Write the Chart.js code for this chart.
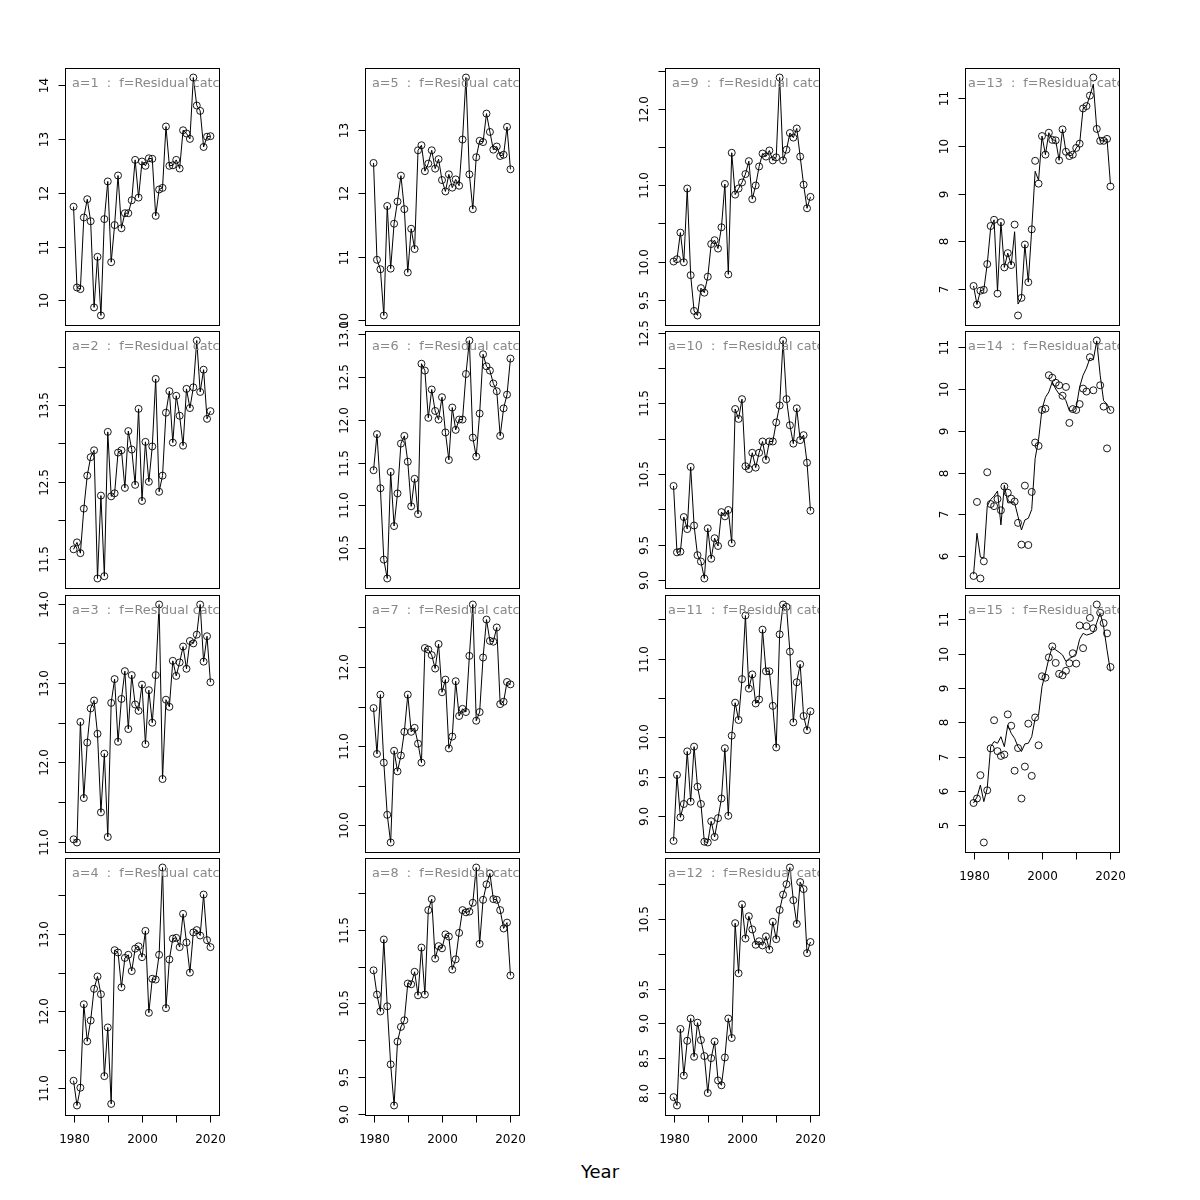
<!DOCTYPE html>
<html>
<head>
<meta charset="utf-8">
<script src="https://cdn.jsdelivr.net/npm/chart.js@4"></script>
<style>
  body { margin: 0; background: #fff; }
  #wrap { position: relative; width: 1200px; height: 1200px; }
  #wrap canvas { position: absolute; }
  #xlab { position: absolute; left: 0; width: 1200px; top: 1161px; line-height: 22px;
          text-align: center; font: 18px "DejaVu Sans", sans-serif; color: #000; }
</style>
</head>
<body>
<div id="wrap"><div id="xlab">Year</div></div>
<script>
// anni (asse x)
var years = [1980,1981,1982,1983,1984,1985,1986,1987,1988,1989,
             1990,1991,1992,1993,1994,1995,1996,1997,1998,1999,
             2000,2001,2002,2003,2004,2005,2006,2007,2008,2009,
             2010,2011,2012,2013,2014,2015,2016,2017,2018,2019,2020];
var xTicks = [1980, 1990, 2000, 2010, 2020];

// valori osservati (cerchi) per ogni pannello a=1..15
var a1 = [11.74,10.24,10.21,11.54,11.88,11.47,9.87,10.81,9.72,11.51,
          12.21,10.71,11.40,12.32,11.34,11.62,11.62,11.86,12.61,11.91,
          12.58,12.50,12.64,12.63,11.57,12.06,12.09,13.23,12.50,12.51,
          12.61,12.45,13.16,13.10,13.00,14.14,13.62,13.52,12.85,13.04,13.05];
var a2 = [11.62,11.71,11.57,12.15,12.58,12.82,12.91,11.24,12.32,11.27,
          13.15,12.31,12.35,12.88,12.91,12.42,13.16,12.92,12.46,13.45,
          12.25,13.02,12.50,12.96,13.84,12.37,12.58,13.40,13.68,13.01,
          13.62,13.36,12.97,13.71,13.46,13.73,14.34,13.67,13.96,13.32,13.42];
var a3 = [11.03,10.99,12.51,11.55,12.25,12.68,12.78,12.36,11.37,12.11,
          11.06,12.75,13.05,12.26,12.80,13.15,12.42,13.10,12.73,12.65,
          12.98,12.23,12.91,12.50,13.10,13.99,11.79,12.79,12.70,13.28,
          13.09,13.26,13.46,13.18,13.53,13.50,13.61,13.99,13.27,13.59,13.01];
var a4 = [11.10,10.78,11.01,12.09,11.61,11.88,12.29,12.45,12.22,11.16,
          11.79,10.80,12.79,12.76,12.31,12.69,12.73,12.52,12.81,12.84,
          12.70,13.04,11.98,12.42,12.41,12.73,13.86,12.04,12.67,12.94,
          12.95,12.83,13.26,12.89,12.50,13.02,13.05,12.98,13.51,12.92,12.83];
var a5 = [12.48,10.95,10.80,10.07,11.80,10.81,11.52,11.87,12.28,11.75,
          10.75,11.44,11.12,12.68,12.76,12.35,12.47,12.68,12.39,12.54,
          12.21,12.03,12.30,12.09,12.22,12.12,12.85,13.83,12.30,11.75,
          12.57,12.83,12.81,13.26,12.97,12.69,12.74,12.59,12.61,13.05,12.38];
var a6 = [11.41,11.83,11.20,10.37,10.15,11.39,10.76,11.14,11.72,11.81,
          11.51,10.99,11.31,10.90,12.65,12.57,12.02,12.35,12.10,12.00,
          12.26,11.85,11.53,12.14,11.88,12.00,12.00,12.53,12.92,11.79,
          11.57,12.07,12.76,12.62,12.57,12.42,12.33,11.81,12.13,12.29,12.71];
var a7 = [11.48,10.90,11.65,10.79,10.13,9.78,10.94,10.68,10.88,11.18,
          11.65,11.18,11.23,11.03,10.79,12.24,12.22,12.15,11.98,12.29,
          11.68,11.84,10.97,11.12,11.82,11.38,11.47,11.43,12.14,12.79,
          11.32,11.43,12.12,12.60,12.33,12.32,12.50,11.53,11.56,11.81,11.78];
var a8 = [10.95,10.62,10.39,11.37,10.46,9.67,9.11,9.98,10.18,10.27,
          10.77,10.76,10.93,10.61,11.26,10.62,11.77,11.92,11.11,11.28,
          11.25,11.44,11.41,10.96,11.10,11.46,11.77,11.74,11.75,11.87,
          12.35,11.31,11.91,12.12,12.27,11.92,11.91,11.77,11.52,11.60,10.88];
var a9 = [10.00,10.03,10.38,9.99,10.96,9.82,9.35,9.29,9.65,9.59,
          9.80,10.23,10.28,10.17,10.45,11.02,9.83,11.43,10.88,10.96,
          11.04,11.15,11.32,10.82,11.00,11.25,11.42,11.38,11.46,11.33,
          11.37,12.42,11.33,11.47,11.69,11.63,11.75,11.38,11.01,10.70,10.85];
var a10 = [10.33,9.39,9.40,9.89,9.72,10.60,9.77,9.35,9.26,9.02,
           9.73,9.30,9.59,9.48,9.96,9.90,9.99,9.52,11.42,11.28,
           11.56,10.61,10.57,10.80,10.59,10.80,10.96,10.70,10.96,10.96,
           11.23,11.47,12.39,11.56,11.19,10.93,11.43,10.98,11.05,10.66,9.98];
var a11 = [8.68,9.52,8.98,9.15,9.82,9.18,9.88,9.37,9.15,8.67,
           8.66,8.93,8.73,8.97,9.22,9.86,9.00,10.02,10.44,10.22,
           10.74,11.55,10.62,10.80,10.43,10.48,11.37,10.84,10.84,10.40,
           9.87,11.31,11.69,11.66,11.09,10.19,10.70,10.93,10.27,10.09,10.33];
var a12 = [7.94,7.82,8.92,8.25,8.75,9.07,8.52,9.01,8.76,8.53,
           8.00,8.50,8.74,8.18,8.11,8.51,9.07,8.79,10.44,9.72,
           10.71,10.22,10.54,10.35,10.13,10.18,10.12,10.25,10.06,10.46,
           10.21,10.63,10.85,11.00,11.24,10.77,10.43,11.03,10.93,10.01,10.17];
var a13 = [7.06,6.67,6.96,6.98,7.52,8.32,8.45,6.90,8.40,7.45,
           7.75,7.50,8.35,6.44,6.81,7.93,7.14,8.25,9.69,9.21,
           10.21,9.82,10.28,10.13,10.12,9.70,10.35,9.88,9.79,9.82,
           9.96,10.05,10.79,10.84,11.06,11.44,10.36,10.11,10.11,10.15,9.15];
var a14 = [5.53,7.30,5.47,5.88,8.01,7.25,7.20,7.37,7.10,7.67,
           7.52,7.38,7.31,6.80,6.28,7.69,6.27,7.54,8.72,8.64,
           9.50,9.53,10.33,10.27,10.15,10.09,9.84,10.05,9.19,9.52,
           9.50,9.64,10.01,9.94,10.76,9.97,11.16,10.09,9.58,8.58,9.50];
var a15 = [5.65,5.78,6.46,4.50,6.02,7.24,8.06,7.16,7.02,7.06,
           8.23,7.90,6.59,7.25,5.78,6.71,7.96,6.44,8.14,7.33,
           9.34,9.30,9.89,10.21,9.73,9.41,9.37,9.50,9.72,10.01,
           9.71,10.82,10.16,10.80,11.04,10.74,11.43,11.19,10.89,10.59,9.61];

// linee (dove si staccano dai cerchi)
var fit13 = [7.06,6.67,6.96,6.98,7.52,8.28,8.45,6.95,8.40,7.45,
             7.75,7.50,8.20,6.68,6.81,7.93,7.14,8.25,9.47,9.28,
             10.21,9.82,10.28,10.13,10.12,9.70,10.35,9.88,9.79,9.82,
             9.96,10.05,10.79,10.84,11.06,11.30,10.36,10.11,10.11,10.15,9.20];
var fit14 = [5.57,6.55,5.98,5.96,7.20,7.36,7.44,7.56,6.75,7.70,
             7.28,7.28,7.28,6.95,6.63,6.87,6.91,7.12,8.34,8.79,
             9.52,9.80,9.93,10.17,10.00,9.88,9.84,9.72,9.48,9.48,
             9.56,10.05,10.33,10.50,10.74,10.70,11.15,10.33,9.72,9.64,9.48];
var fit15 = [5.65,5.82,6.17,5.69,6.08,7.29,7.44,7.39,7.58,7.29,
             7.92,7.68,7.53,7.29,7.15,7.37,7.39,7.58,8.12,8.21,
             9.04,9.43,9.86,10.20,10.11,10.04,9.96,9.77,9.86,9.91,
             10.01,10.42,10.59,10.54,10.57,10.61,10.90,11.19,10.79,10.11,9.48];

var observed = [a1,a2,a3,a4,a5,a6,a7,a8,a9,a10,a11,a12,a13,a14,a15];
var fitted   = [a1,a2,a3,a4,a5,a6,a7,a8,a9,a10,a11,a12,fit13,fit14,fit15];
// passo delle tacche dell'asse y per pannello
var tickSteps = [1,0.5,0.5,0.5, 1,0.5,0.5,0.5, 0.5,0.5,0.5,0.5, 1,1,1];

var boxLeft0 = 65, boxW = 154, boxH = 257, colStep = 300;
var boxTops = [68, 331, 595, 858];
var FONT = '"DejaVu Sans", sans-serif';

// disegna cornice, tacche ed etichette come fa R
var rBox = {
  id: 'rBox',
  afterDraw: function(chart){
    var o = chart.options.plugins.rBox;
    var ctx = chart.ctx, a = chart.chartArea;
    var ys = chart.scales.y, xs = chart.scales.x;
    ctx.save();

    // titolo del pannello, tagliato dalla cornice
    ctx.save();
    ctx.beginPath();
    ctx.rect(a.left, a.top, a.right - a.left, a.bottom - a.top);
    ctx.clip();
    ctx.font = '12.8px ' + FONT;
    ctx.fillStyle = '#888888';
    ctx.textAlign = 'center';
    ctx.textBaseline = 'middle';
    var w1 = ctx.measureText('a=1  :  f=Residual catch').width;
    ctx.fillText('a=' + o.n + '  :  f=Residual catch', a.left + 7 + w1 / 2, a.top + 16);
    ctx.restore();

    ctx.strokeStyle = '#000';
    ctx.lineWidth = 1;
    var L = Math.round(a.left) + 0.5, T = Math.round(a.top) + 0.5;
    var R = Math.round(a.right) + 0.5, B = Math.round(a.bottom) + 0.5;
    ctx.strokeRect(L, T, R - L, B - T);

    ctx.font = '12px ' + FONT;
    ctx.fillStyle = '#000';
    ctx.textAlign = 'center';
    ctx.textBaseline = 'middle';
    var gap = 14.5;

    // asse y
    var step = o.step, range = ys.max - ys.min, eps = range * 0.001;
    var lastTop = Infinity;
    for (var v = Math.ceil((ys.min - eps) / step) * step; v <= ys.max - eps; v += step) {
      if (v < ys.min + eps) continue;
      var py = Math.round(ys.getPixelForValue(v)) + 0.5;
      ctx.beginPath();
      ctx.moveTo(L, py); ctx.lineTo(L - 7, py); ctx.stroke();
      var lab = step < 1 ? v.toFixed(1) : String(Math.round(v));
      var hw = ctx.measureText(lab).width / 2;
      if (lastTop - (py + hw) >= gap) {
        ctx.save();
        ctx.translate(a.left - 20, py);
        ctx.rotate(-Math.PI / 2);
        ctx.fillText(lab, 0, 0);
        ctx.restore();
        lastTop = py - hw;
      }
    }

    // asse x solo sui pannelli in basso
    if (o.bottom) {
      var lastRight = -Infinity;
      xTicks.forEach(function(t){
        var px = Math.round(xs.getPixelForValue(t)) + 0.5;
        ctx.beginPath();
        ctx.moveTo(px, B); ctx.lineTo(px, B + 7); ctx.stroke();
        var hw = ctx.measureText(String(t)).width / 2;
        if ((px - hw) - lastRight >= gap) {
          ctx.fillText(String(t), px, a.bottom + 25);
          lastRight = px + hw;
        }
      });
    }
    ctx.restore();
  }
};

function makePanel(i) {
  var col = Math.floor(i / 4), row = i % 4;
  var bottom = (i === 3 || i === 7 || i === 11 || i === 14);
  var left = boxLeft0 + col * colStep;
  var top = boxTops[row];
  var padB = bottom ? 45 : 15;

  var c = document.createElement('canvas');
  c.width = 45 + boxW + 6;
  c.height = 15 + boxH + padB;
  c.style.left = (left - 45) + 'px';
  c.style.top = (top - 15) + 'px';
  document.getElementById('wrap').appendChild(c);

  var obs = observed[i], fit = fitted[i];
  var all = obs.concat(fit);
  var lo = Math.min.apply(null, all), hi = Math.max.apply(null, all);
  var pad = (hi - lo) * 0.04;

  new Chart(c, {
    type: 'line',
    data: {
      datasets: [{
        data: fit.map(function(v, k){ return {x: years[k], y: v}; }),
        borderColor: '#000',
        borderWidth: 1,
        pointRadius: 0,
        tension: 0,
        fill: false
      }, {
        data: obs.map(function(v, k){ return {x: years[k], y: v}; }),
        showLine: false,
        pointRadius: 3.5,
        pointBorderWidth: 0.9,
        pointBorderColor: '#000',
        pointBackgroundColor: 'rgba(0,0,0,0)'
      }]
    },
    options: {
      responsive: false,
      animation: false,
      devicePixelRatio: 1,
      layout: { padding: { left: 45, right: 6, top: 15, bottom: padB } },
      scales: {
        x: { type: 'linear', min: 1977.5, max: 2022.5, display: false },
        y: { type: 'linear', min: lo - pad, max: hi + pad, display: false }
      },
      plugins: {
        legend: { display: false },
        tooltip: { enabled: false },
        rBox: { n: i + 1, step: tickSteps[i], bottom: bottom }
      }
    },
    plugins: [rBox]
  });
}

for (var i = 0; i < observed.length; i++) {
  makePanel(i);
}
</script>
</body>
</html>
